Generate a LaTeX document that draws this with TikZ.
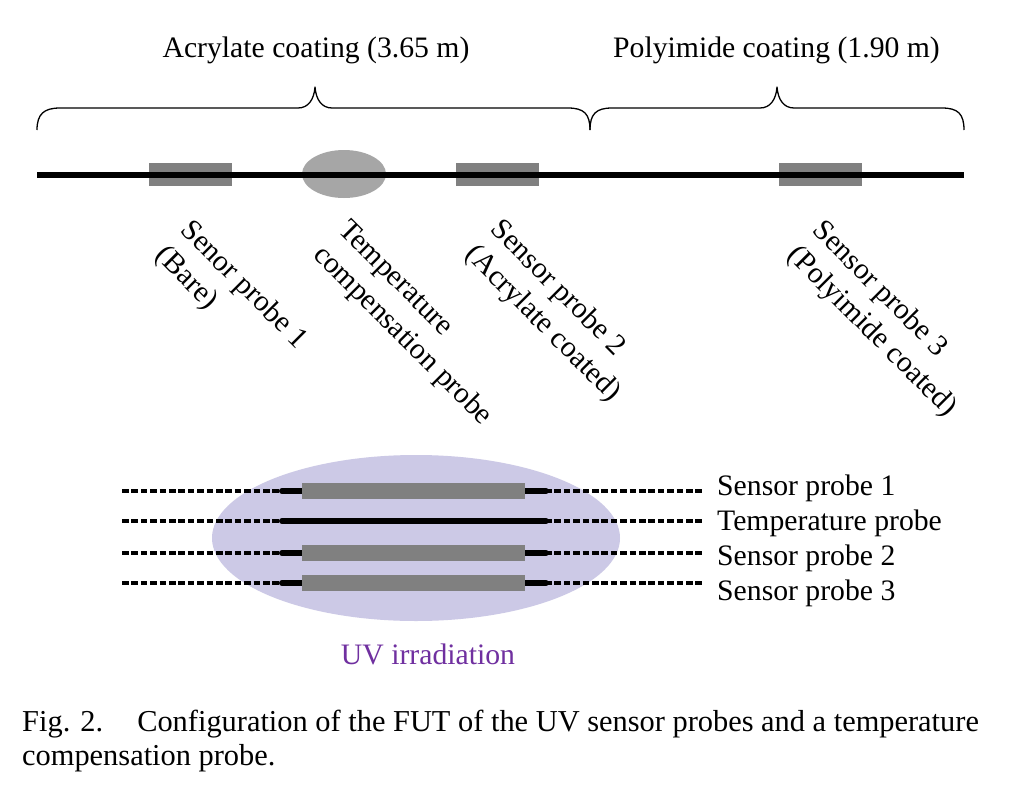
\documentclass[tikz,border=0pt]{standalone}
\usepackage{fontspec}
\setmainfont{Liberation Serif}
\usetikzlibrary{shapes.geometric}
\definecolor{probegray}{RGB}{128,128,128}
\definecolor{tempgray}{RGB}{166,166,166}
\definecolor{uvlav}{RGB}{204,201,230}
\definecolor{uvpurple}{RGB}{112,48,160}
\begin{document}
\begin{tikzpicture}[x=1pt,y=-1pt,
  txt/.style={inner sep=0pt, font=\fontsize{29.7}{35.5}\selectfont},
  rotlabel/.style={txt, rotate=-45, anchor=north west, align=left},
  brace/.style={line width=1.3pt, line join=round},
  fiber/.style={line width=6pt},
  probebox/.style={fill=probegray, inner sep=0pt, minimum width=83pt, minimum height=23pt},
  tempblob/.style={ellipse, fill=tempgray, inner sep=0pt, minimum width=84pt, minimum height=48pt},
  dotfiber/.style={line width=4pt, dash pattern=on 6.5pt off 2.9pt},
  solidfiber/.style={line width=6pt, line cap=round},
  uvbox/.style={fill=probegray, inner sep=0pt, minimum width=223pt, minimum height=16pt},
]
\useasboundingbox (0,0) rectangle (1011,800);
\fill[white] (0,0) rectangle (1011,800);

% titles
\node[txt, anchor=base] (tacr) at (316,58) {Acrylate coating (3.65 m)};
\node[txt, anchor=base] (tpoly) at (776.5,58) {Polyimide coating (1.90 m)};

% braces
\draw[brace] (37,130) .. controls (37,114) and (44,108) .. (60,108) -- (298,108)
  .. controls (308,108) and (314,100) .. (315,87)
  .. controls (316,100) and (322,108) .. (332,108) -- (568,108)
  .. controls (584,108) and (590,114) .. (590,130);
\draw[brace] (590,130) .. controls (590,114) and (596,108) .. (612,108) -- (760,108)
  .. controls (770,108) and (776,100) .. (777,87)
  .. controls (778,100) and (784,108) .. (794,108) -- (942,108)
  .. controls (958,108) and (964,114) .. (964,130);

% top fiber
\node[probebox] (p1) at (190.5,174.5) {};
\node[tempblob] (tc) at (344,174) {};
\node[probebox] (p2) at (497.5,174.5) {};
\node[probebox] (p3) at (820.5,174.5) {};
\coordinate (fl) at (37,175);
\coordinate (fr) at (964,175);
\draw[fiber] (fl) -- (fr);

% rotated labels
\node[rotlabel] (l1) at (194,217) {Senor probe 1\\(Bare)};
\node[rotlabel] (l2) at (351,217) {Temperature\\compensation probe};
\node[rotlabel] (l3) at (504,216) {Sensor probe 2\\(Acrylate coated)};
\node[rotlabel] (l4) at (826,217) {Sensor probe 3\\(Polyimide coated)};

% UV region
\node[ellipse, fill=uvlav, inner sep=0pt, minimum width=408pt, minimum height=166pt] (uv) at (416,538) {};

\foreach \yy/\nm in {491/a,521/b,553/c,583/d}{
  \coordinate (dl\nm) at (122,\yy);
  \coordinate (dr\nm) at (703,\yy);
  \coordinate (sl\nm) at (282,\yy);
  \coordinate (sr\nm) at (546,\yy);
  \draw[dotfiber] (dl\nm) -- (dr\nm);
  \draw[solidfiber] (sl\nm) -- (sr\nm);
}
\node[uvbox] (b1) at (413.5,491) {};
\node[uvbox] (b2) at (413.5,553) {};
\node[uvbox] (b3) at (413.5,583) {};

\node[txt, anchor=base west] (r1) at (717,495) {Sensor probe 1};
\node[txt, anchor=base west] (r2) at (717,530) {Temperature probe};
\node[txt, anchor=base west] (r3) at (717,565) {Sensor probe 2};
\node[txt, anchor=base west] (r4) at (717,600) {Sensor probe 3};

\node[txt, anchor=base, text=uvpurple] (uvl) at (428,664) {UV irradiation};

% caption
\node[inner sep=0pt, anchor=base west, align=left, font=\fontsize{30.4}{34}\selectfont] (cap) at (22,765)
  {Fig. 2.\hspace{34pt}Configuration of the FUT of the UV sensor probes and a temperature\\compensation probe.};
\end{tikzpicture}
\end{document}
